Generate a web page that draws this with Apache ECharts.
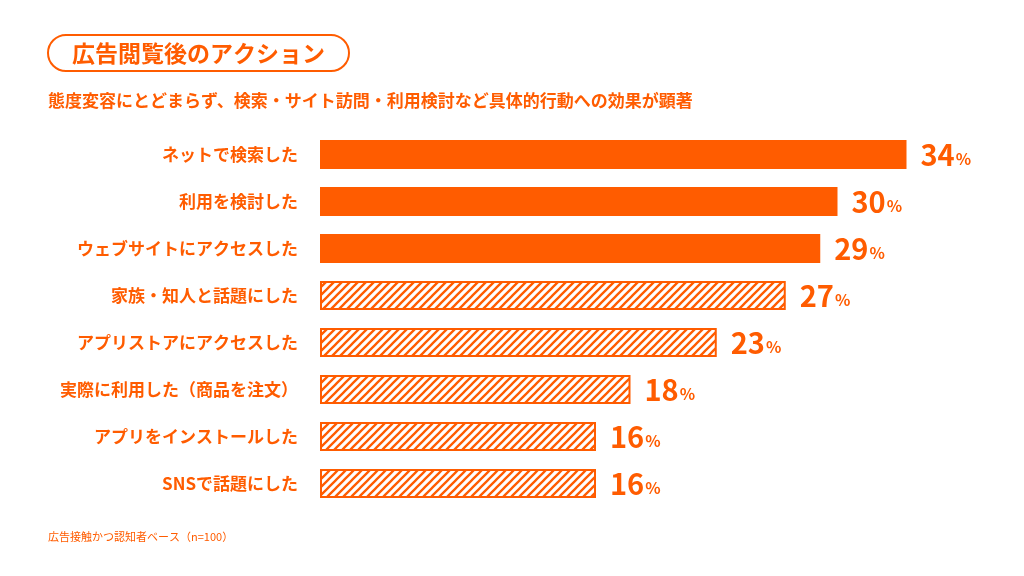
<!DOCTYPE html>
<html lang="ja">
<head>
  <meta charset="UTF-8">
  <title>広告閲覧後のアクション</title>
  <script src="https://cdn.jsdelivr.net/npm/echarts@6/dist/echarts.min.js"></script>
  <style>
    * { margin: 0; padding: 0; box-sizing: border-box; }
    body { background: #fff; }
    #chart { width: 1024px; height: 576px; }
  </style>
</head>
<body>
  <div id="chart"></div>
  <script>
    // データ
    const categories = [
      'ネットで検索した',
      '利用を検討した',
      'ウェブサイトにアクセスした',
      '家族・知人と話題にした',
      'アプリストアにアクセスした',
      '実際に利用した（商品を注文）',
      'アプリをインストールした',
      'SNSで話題にした'
    ];
    const values = [34, 30, 29, 27, 23, 18, 16, 16];
    // 塗りつぶし(true) / 斜線(false)
    const solid = [true, true, true, false, false, false, false, false];

    const orange = '#ff5c00';
    const font = '"Noto Sans CJK JP", "Noto Sans", sans-serif';

    // 斜線パターン
    function makeHatch() {
      const c = document.createElement('canvas');
      const s = 8;
      c.width = s; c.height = s;
      const ctx = c.getContext('2d');
      ctx.fillStyle = '#fff';
      ctx.fillRect(0, 0, s, s);
      ctx.strokeStyle = orange;
      ctx.lineWidth = 2.3;
      ctx.beginPath();
      ctx.moveTo(-1, s + 1); ctx.lineTo(s + 1, -1);
      ctx.moveTo(-2, 2); ctx.lineTo(2, -2);
      ctx.moveTo(s - 2, s + 2); ctx.lineTo(s + 2, s - 2);
      ctx.stroke();
      return c;
    }
    const hatch = makeHatch();

    const chart = echarts.init(document.getElementById('chart'));

    const option = {
      backgroundColor: '#fff',
      animation: false,
      title: [
        {
          text: '広告閲覧後のアクション',
          left: 48,
          top: 35,
          padding: [6, 24, 6, 24],
          borderColor: orange,
          borderWidth: 2,
          borderRadius: 19,
          textStyle: { color: orange, fontSize: 23, fontWeight: 'bold', fontFamily: font, lineHeight: 24 }
        },
        {
          text: '態度変容にとどまらず、検索・サイト訪問・利用検討など具体的行動への効果が顕著',
          left: 48,
          top: 92,
          padding: 0,
          textStyle: { color: orange, fontSize: 17, fontWeight: 'bold', fontFamily: font }
        },
        {
          text: '広告接触かつ認知者ベース（n=100）',
          left: 48,
          top: 531,
          padding: 0,
          textStyle: { color: orange, fontSize: 11, fontWeight: 'normal', fontFamily: font }
        }
      ],
      grid: { left: 320, right: 14, top: 131, bottom: 69 },
      xAxis: {
        type: 'value',
        min: 0,
        max: 40,
        show: false
      },
      yAxis: {
        type: 'category',
        data: categories,
        inverse: true,
        axisLine: { show: false },
        axisTick: { show: false },
        axisLabel: {
          margin: 22,
          color: orange,
          fontSize: 17,
          fontWeight: 'bold',
          fontFamily: font
        }
      },
      series: [{
        type: 'bar',
        barWidth: 29,
        data: values.map((v, i) => ({
          value: v,
          itemStyle: solid[i]
            ? { color: orange }
            : { color: { image: hatch, repeat: 'repeat' }, borderColor: orange, borderWidth: 2 }
        })),
        label: {
          show: true,
          position: 'right',
          distance: 14,
          formatter: p => '{v|' + p.value + '}{p|%}',
          rich: {
            v: { color: orange, fontSize: 29, fontWeight: 'bold', fontFamily: font, padding: [0, 1, 0, 0] },
            p: { color: orange, fontSize: 16, fontWeight: 'bold', fontFamily: font, padding: [8, 0, 0, 0] }
          }
        }
      }]
    };

    chart.setOption(option);
  </script>
</body>
</html>
